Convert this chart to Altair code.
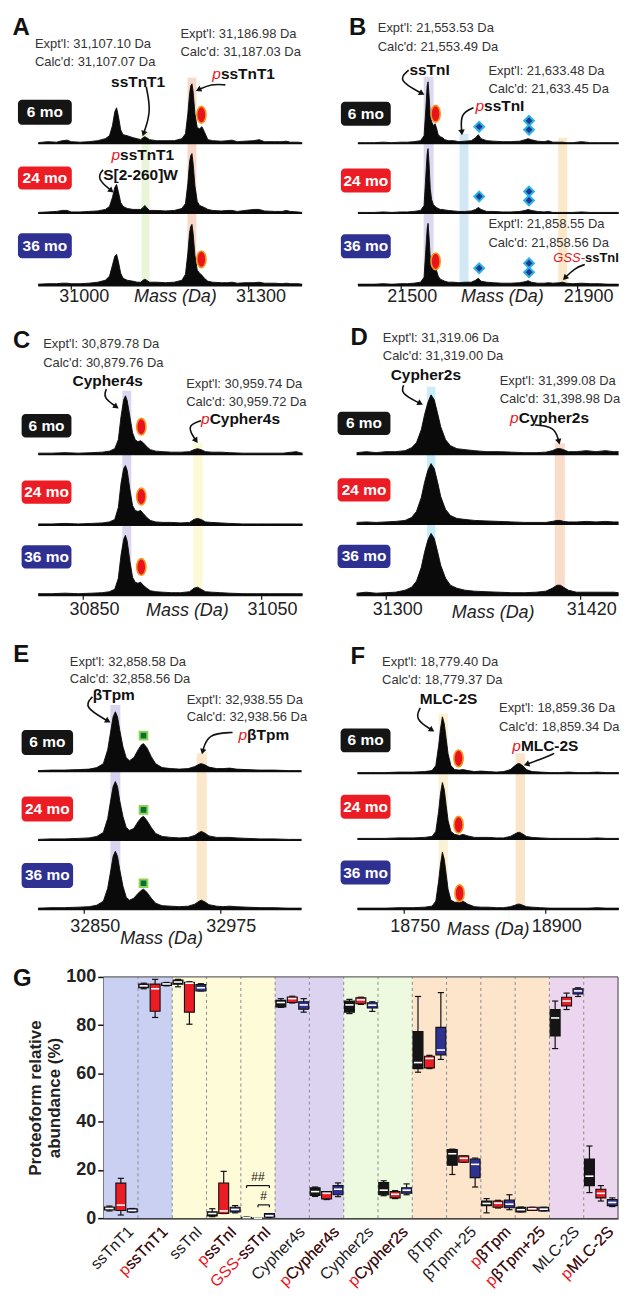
import altair as alt
import pandas as pd

FONT = "Liberation Sans"

AGES = ["6 mo", "24 mo", "36 mo"]
AGE_FILL = ["#151515", "#ec1c24", "#2e3192"]
RED = "#e8141c"

# ---------------- spectra data (mass in Da, intensity in a.u.) ----------------
A_MASS = [30944, 30960, 30975, 30985, 30993, 31000, 31015, 31030, 31045, 31058,
          31065, 31070, 31074, 31077, 31080, 31084, 31088, 31095, 31105, 31112,
          31118, 31122, 31125, 31128, 31133, 31145, 31160, 31175, 31188, 31194,
          31198, 31201, 31203, 31205, 31207, 31210, 31214, 31218, 31222, 31226,
          31232, 31240, 31255, 31265, 31273, 31282, 31295, 31310, 31319, 31328,
          31345, 31358, 31365, 31372, 31385, 31392]
A_6 = [1, 2, 1.5, 3, 3.5, 2, 1.5, 2, 3, 5,
       8, 18, 32, 36, 28, 14, 9, 8, 6, 5,
       4, 6, 7, 6, 4, 3, 3, 3, 5, 10,
       30, 50, 58, 60, 52, 30, 16, 15, 17, 12,
       4, 3, 2.5, 3, 3.5, 2, 2.5, 3, 4, 2,
       2, 2, 2.5, 1.5, 1.5, 1]
A_24 = [1, 1.5, 2, 3, 3, 1.5, 1.5, 2, 2.5, 4,
        7, 16, 26, 29, 22, 11, 7, 5, 4, 4,
        4, 6, 8, 6, 3, 3, 2.5, 3, 5, 10,
        30, 52, 58, 60, 50, 28, 12, 8, 7, 6,
        4, 3, 2.5, 3, 3, 2, 3, 4, 4, 2.5,
        2, 2, 3, 2, 1.5, 1]
A_36 = [1, 1.5, 1.5, 2, 2, 1.5, 1.5, 2, 3, 5,
        9, 20, 29, 31, 24, 12, 7, 5, 4, 3,
        3, 5, 6, 5, 3, 3, 2.5, 3, 5, 11,
        32, 53, 59, 61, 52, 30, 15, 12, 10, 7,
        4, 3, 2.5, 2.5, 3, 2, 2.5, 2.5, 3, 2,
        2, 1.5, 2, 1.5, 1.5, 1]

B_MASS = [21403, 21420, 21440, 21460, 21480, 21500, 21515, 21530, 21545, 21553,
          21557, 21560, 21562, 21564, 21567, 21570, 21574, 21578, 21581, 21585,
          21590, 21595, 21600, 21608, 21620, 21632, 21645, 21660, 21670, 21676,
          21682, 21695, 21710, 21730, 21750, 21770, 21782, 21789, 21796, 21810,
          21825, 21835, 21845, 21860, 21867, 21875, 21890, 21910, 21930, 21950,
          21970, 21994]
B_6 = [1, 1, 1, 1.5, 1, 1.5, 1.5, 2, 3, 8,
       35, 58, 62, 50, 28, 22, 18, 20, 16, 9,
       7, 6, 4, 3, 3, 2, 2.5, 3, 6, 9,
       5, 3, 2.5, 2, 2, 2.5, 4, 5, 4, 2.5,
       2, 3, 1.5, 1.5, 1.5, 1, 1, 2, 1, 1,
       1, 1]
B_24 = [1, 1, 1, 1.5, 1, 1.5, 1.5, 2, 3, 8,
        38, 60, 65, 52, 25, 14, 9, 7, 6, 5,
        4, 4, 3.5, 3, 2.5, 2, 2, 2.5, 4, 6,
        4, 2, 2, 1.5, 1.5, 2, 3, 4, 3, 2,
        1.5, 2, 1, 1, 1, 1, 1, 1.5, 1, 1,
        1, 1]
B_36 = [1, 1, 1, 1.5, 1, 1.5, 1.5, 2, 3, 8,
        36, 57, 62, 50, 27, 20, 17, 21, 15, 9,
        6, 5, 4, 3, 3, 2.5, 3, 3, 5, 7,
        4, 3, 2.5, 2, 2, 2.5, 3.5, 4.5, 3, 2,
        2, 2.5, 2, 2.5, 3, 2, 1.5, 2, 1.5, 1.5,
        1, 1]

C_MASS = [30800, 30815, 30830, 30845, 30860, 30872, 30880, 30886, 30890, 30893,
          30896, 30898, 30900, 30903, 30906, 30909, 30912, 30915, 30918, 30922,
          30926, 30932, 30940, 30950, 30960, 30970, 30975, 30979, 30983, 30988,
          30995, 31005, 31015, 31030, 31045, 31060, 31075, 31085, 31090, 31094,
          31097]
C_6 = [1.5, 1.5, 2, 1.5, 2, 2.5, 3.5, 6, 15, 38,
       55, 59, 54, 38, 22, 15, 13, 14, 12, 8,
       5, 3.5, 3, 2.5, 2.5, 3, 5, 6, 5, 3,
       2.5, 2.5, 2, 1.5, 1.5, 1.5, 1.5, 2.5, 3, 2,
       1.5]
C_24 = [1.5, 1.5, 2, 1.5, 2, 2.5, 3.5, 6, 18, 42,
        57, 60, 55, 36, 20, 15, 14, 15, 12, 8,
        5, 3.5, 3, 3, 2.5, 3, 6, 7, 6, 3.5,
        3, 2.5, 2, 1.5, 1.5, 1.5, 1.5, 1.5, 1.5, 1.5,
        1.5]
C_36 = [1.5, 1.5, 2, 1.5, 2, 2.5, 3.5, 6, 17, 40,
        56, 60, 54, 34, 18, 13, 12, 13, 10, 7,
        4.5, 3.5, 3, 2.5, 2.5, 3.5, 7, 8, 6, 3.5,
        3, 2.5, 2, 1.5, 1.5, 1.5, 1.5, 1.5, 1.5, 1.5,
        1.5]

D_MASS = [31282, 31288, 31294, 31300, 31306, 31312, 31316, 31319, 31322, 31324,
          31326, 31328, 31330, 31332, 31334, 31337, 31340, 31344, 31349, 31355,
          31362, 31370, 31378, 31386, 31393, 31399, 31403, 31406, 31408, 31410,
          31413, 31418, 31424, 31430, 31436, 31441, 31444]
D_6 = [2, 3, 2, 3, 3, 4, 7, 12, 25, 40,
       52, 60, 55, 42, 28, 15, 9, 6, 5, 4,
       3, 3, 2.5, 2, 2, 2.5, 4, 6, 6, 5,
       3, 3, 4, 3, 4, 3, 3]
D_24 = [2, 2.5, 2, 2.5, 3, 4, 7, 13, 27, 42,
        54, 61, 56, 43, 28, 15, 9, 6, 5, 4,
        3.5, 3, 2.5, 2, 2, 2, 3, 4, 4, 3,
        2.5, 2.5, 3, 2.5, 3, 2.5, 2.5]
D_36 = [2, 3, 2, 2.5, 3, 5, 8, 14, 28, 43,
        55, 62, 57, 44, 30, 17, 10, 7, 5, 4,
        3.5, 3, 2.5, 2.5, 3, 4, 7, 10, 10, 8,
        5, 3, 3, 3, 3, 3, 2.5]

E_MASS = [32808, 32820, 32832, 32845, 32855, 32862, 32868, 32872, 32875, 32877,
          32879, 32881, 32883, 32886, 32889, 32892, 32896, 32900, 32903, 32905,
          32908, 32912, 32916, 32922, 32930, 32938, 32946, 32952, 32956, 32958,
          32961, 32965, 32972, 32978, 32984, 32990, 33000, 33012, 33025, 33038,
          33050]
E_6 = [1, 1.5, 1.5, 2, 2.5, 4, 8, 22, 42, 55,
       60, 55, 42, 25, 14, 11, 14, 22, 27, 28,
       24, 15, 8, 4, 3, 2.5, 3, 5, 7.5, 8,
       7, 4.5, 3, 3, 3.5, 2.5, 2, 1.5, 1.5, 1,
       1]
E_24 = [1, 1.5, 1.5, 2, 2.5, 4, 8, 22, 42, 54,
        59, 54, 40, 24, 13, 10, 12, 19, 23, 24,
        20, 13, 7, 4, 3, 2.5, 3, 5, 8, 9,
        7.5, 4.5, 3, 3, 3, 2.5, 2, 1.5, 1.5, 1,
        1]
E_36 = [1, 1.5, 1.5, 2, 2.5, 4, 8, 21, 40, 53,
        58, 53, 40, 23, 12, 9, 11, 16, 19, 20,
        17, 11, 6, 3.5, 3, 2.5, 3, 5, 8, 9,
        7.5, 4.5, 3, 2.5, 3, 2.5, 2, 1.5, 1.5, 1,
        1]

F_MASS = [18701, 18715, 18730, 18745, 18760, 18772, 18780, 18784, 18787, 18789,
          18791, 18793, 18795, 18797, 18800, 18804, 18809, 18813, 18818, 18825,
          18832, 18840, 18848, 18856, 18863, 18868, 18871, 18873, 18876, 18880,
          18886, 18895, 18905, 18915, 18925, 18935, 18945, 18955, 18965, 18978]
F_6 = [1, 1, 1, 1.5, 1.5, 2, 3, 8, 28, 45,
       57, 50, 35, 20, 8, 4, 3.5, 4, 3, 2,
       2.5, 2, 1.5, 2, 4, 8, 10, 10, 8, 4,
       2, 1.5, 1, 1, 1.5, 1, 1, 1.5, 1, 1]
F_24 = [1, 1, 1, 1.5, 1.5, 2, 3, 8, 28, 46,
        57, 50, 34, 19, 8, 5, 4, 5, 3.5, 2,
        2, 2, 1.5, 1.5, 3, 5.5, 7, 7, 5.5, 3,
        2, 1.5, 1, 1, 1, 1, 1, 1.5, 1, 1]
F_36 = [1, 1, 1, 1.5, 1.5, 2, 3, 8, 28, 45,
        57, 50, 35, 20, 9, 7, 7, 8, 5, 2.5,
        2, 2, 1.5, 1.5, 2.5, 4, 5, 5, 4, 2.5,
        2, 1.5, 1, 1, 1, 1, 1, 1.5, 1, 1]

A_INFO = ["Expt'l: 31,107.10 Da", "Calc'd: 31,107.07 Da", "Expt'l: 31,186.98 Da", "Calc'd: 31,187.03 Da"]
B_INFO = ["Expt'l: 21,553.53 Da", "Calc'd: 21,553.49 Da", "Expt'l: 21,633.48 Da", "Calc'd: 21,633.45 Da",
          "Expt'l: 21,858.55 Da", "Calc'd: 21,858.56 Da"]
C_INFO = ["Expt'l: 30,879.78 Da", "Calc'd: 30,879.76 Da", "Expt'l: 30,959.74 Da", "Calc'd: 30,959.72 Da"]
D_INFO = ["Expt'l: 31,319.06 Da", "Calc'd: 31,319.00 Da", "Expt'l: 31,399.08 Da", "Calc'd: 31,398.98 Da"]
E_INFO = ["Expt'l: 32,858.58 Da", "Calc'd: 32,858.56 Da", "Expt'l: 32,938.55 Da", "Calc'd: 32,938.56 Da"]
F_INFO = ["Expt'l: 18,779.40 Da", "Calc'd: 18,779.37 Da", "Expt'l: 18,859.36 Da", "Calc'd: 18,859.34 Da"]

# ---------------- panel G data ----------------
G_CATS = ["ssTnT1", "pssTnT1", "ssTnI", "pssTnI", "GSS-ssTnI", "Cypher4s", "pCypher4s",
          "Cypher2s", "pCypher2s", "βTpm", "βTpm+25", "pβTpm", "pβTpm+25", "MLC-2S", "pMLC-2S"]
G_PREFIX = ["", "p", "", "p", "GSS-", "", "p", "", "p", "", "", "p", "p", "", "p"]
G_BG = ["#c9d0f2"] * 2 + ["#fefbd8"] * 3 + ["#dcd3f0"] * 2 + ["#eefadf"] * 2 + ["#fde5cc"] * 4 + ["#ecd6ef"] * 2

G6_WLO = [3, 95.1, 95.9, 0.6, 0.0, 87.4, 9, 84.8, 9.3, 60.5, 18.1, 2.2, 2.6, 70.3, 10.6]
G6_Q1 = [3.4, 95.5, 97, 0.9, 0.1, 87.6, 9.4, 85.4, 9.7, 62, 21.9, 5.2, 2.6, 75.5, 13.5]
G6_MED = [4, 96.3, 97.9, 1.9, 0.2, 89.4, 11, 88.4, 11.6, 64.5, 26.7, 6.1, 3.5, 83, 17.4]
G6_Q3 = [4.6, 97.0, 98.7, 2.6, 0.3, 90.3, 12.6, 90, 14.8, 77.4, 28.4, 7.1, 4.5, 86.5, 24.5]
G6_WHI = [5, 97.4, 99, 3.9, 0.5, 91, 12.9, 90.7, 15.5, 91.9, 28.6, 8.1, 4.6, 90, 29.9]

G24_WLO = [1.3, 83.2, 80.4, 1.9, 0, 89.2, 7.7, 88.6, 8.1, 62, 23.2, 4.2, 3.2, 86.5, 7.1]
G24_Q1 = [3.2, 85.8, 85.4, 1.9, 0, 89.4, 8.0, 88.9, 8.4, 62.3, 23.2, 4.5, 3.2, 88, 8.4]
G24_MED = [5.4, 95.1, 97.4, 3, 0, 91, 10.3, 90.5, 9.9, 66.2, 24.8, 6.2, 3.9, 90, 10.3]
G24_Q3 = [14.5, 97, 97.8, 14.6, 0.05, 91.7, 11, 91.4, 11, 67.1, 25.8, 7.1, 4.5, 91.6, 12]
G24_WHI = [16.5, 99, 98, 19.4, 0.1, 92, 11, 91.6, 11.4, 67.5, 25.8, 7.4, 4.5, 93.3, 13.5]

G36_WLO = [2.5, 96.3, 94.2, 2.2, 0.3, 85.4, 8.9, 85.7, 9.7, 65.8, 12.9, 3.5, 3.0, 91.9, 4.8]
G36_Q1 = [2.6, 96.5, 94.2, 2.6, 0.4, 86.6, 9.7, 87.1, 10.3, 67.7, 16.8, 4.3, 3.0, 92.9, 5.2]
G36_MED = [3.2, 97.1, 95.5, 3.6, 1.0, 88.4, 12, 88.3, 11.6, 69.7, 22.3, 5.8, 3.7, 94.2, 6.5]
G36_Q3 = [3.9, 97.5, 96.8, 4.5, 1.9, 89.7, 13.5, 89.3, 12.6, 79.1, 24.5, 7.5, 4.5, 95.1, 7.7]
G36_WHI = [4, 97.7, 97.2, 5.2, 1.9, 91, 14.6, 89.7, 14.2, 93.5, 24.9, 9.7, 4.5, 95.5, 8.4]

G_SIG = [("##", 4, 0, 2, 13.5), ("#", 4, 1, 2, 5.5)]  # label, category, age from, age to, level

# ---------------- panel layout / annotation settings ----------------
OVAL = "M0,-1A0.55,1,0,1,1,0,1A0.55,1,0,1,1,0,-1Z"

A_CFG = dict(
    mass=A_MASS, ints=[A_6, A_24, A_36], info=A_INFO,
    w=306, h=276, domain=[30892.7, 31410.5], ticks=[31000, 31300], span=[30944, 31392],
    ldx=12.6, lpad=-2, tx=167.5, ty=2, letter=("A", 30900.3, 251), base=[142, 72, 0],
    bands=[(31119.4, 31133, 154, "#e6f4d3"), (31197.3, 31212.5, 208, "#f9d4c3")],
    boxes=[(30909.6, 31001.0, 161, 186), (30909.6, 31001.0, 96, 119), (30909.6, 31001.0, 27, 52)],
    info_pos=[(30938.4, 242), (30938.4, 224), (31185.4, 252), (31185.4, 234)],
    bold=[("ssTnT1", 31113.5, 204), ("S[2-260]W", 31117.8, 111)],
    plab=[("ssTnT1", 31239.6, 212), ("ssTnT1", 31068.4, 131)], glab=[],
    ovals=[(31221, 171), (31221, 26)], diamonds=[], squares=[],
    arrows=[[(31127.4, 199), (31135.9, 174), (31122.8, 152), 199],
            [(31261.6, 201), (31237.9, 202), (31215.9, 196), 245],
            [(31054, 115.7), (31042.8, 107.3), (31068.2, 94.7), 130]],
)
B_CFG = dict(
    mass=B_MASS, ints=[B_6, B_24, B_36], info=B_INFO,
    w=283, h=276, domain=[21355.4, 21994.9], ticks=[21500, 21900], span=[21403, 21994],
    ldx=11, lpad=-2, tx=165.5, ty=2, letter=("B", 21382.5, 251), base=[142, 72, 0],
    bands=[(21552, 21574.6, 209, "#d9d4ef"), (21633.3, 21653.7, 152, "#cde6f4"), (21857, 21877.4, 148, "#fbe5c2")],
    boxes=[(21364.4, 21477.4, 160, 184), (21364.4, 21477.4, 93, 117), (21364.4, 21477.4, 27, 51)],
    info_pos=[(21448, 258), (21448, 239), (21698.9, 215), (21698.9, 197), (21698.9, 61), (21698.9, 42)],
    bold=[("ssTnI", 21565.5, 216)], plab=[("ssTnI", 21669.5, 180)], glab=[("ssTnI", 21846, 27)],
    ovals=[(21579.1, 172), (21579.1, 24)],
    diamonds=[(21677.9, 159), (21677.9, 89), (21677.9, 17), (21790.9, 165), (21790.9, 156),
              (21790.9, 94), (21790.9, 85), (21790.9, 22), (21790.9, 13)],
    squares=[],
    arrows=[[(21518.1, 215.7), (21491.6, 205.7), (21548.1, 192.3), 118],
            [(21665, 178), (21634.9, 172.3), (21638.5, 153.3), 175],
            [(21917.4, 20.7), (21894.8, 17.3), (21872.2, 7.3), 225]],
)
C_CFG = dict(
    mass=C_MASS, ints=[C_6, C_24, C_36], info=C_INFO,
    w=306, h=271, domain=[30766, 31108.8], ticks=[30850, 31050], span=[30800, 31097],
    ldx=11.3, lpad=1, tx=179.5, ty=6, letter=("C", 30771.6, 248), base=[141, 70, 0],
    bands=[(30894.5, 30904.6, 205, "#d8d0ee"), (30974.4, 30984.8, 153.3, "#fafad2")],
    boxes=[(30781.3, 30837.3, 158.3, 181.7), (30781.3, 30837.3, 91.7, 115), (30781.3, 30837.3, 26.7, 50)],
    info_pos=[(30805.5, 251.7), (30805.5, 233.3), (30966.2, 211.7), (30966.2, 193.3)],
    bold=[("Cypher4s", 30878, 215)], plab=[("Cypher4s", 30983, 176.7)], glab=[],
    ovals=[(30915.8, 169), (30915.8, 99), (30915.8, 28.3)], diamonds=[], squares=[],
    arrows=[[(30876.6, 206.7), (30872.7, 198.3), (30887.8, 189), 125],
            [(30983, 175), (30966.2, 170), (30977.4, 155), 146]],
)
D_CFG = dict(
    mass=D_MASS, ints=[D_6, D_24, D_36], info=D_INFO,
    w=283, h=271, domain=[31269.8, 31444.3], ticks=[31300, 31420], span=[31282, 31444],
    ldx=11.5, lpad=1, tx=156.3, ty=8, letter=("D", 31278.2, 251), base=[141, 71, 0],
    bands=[(31325.5, 31330.7, 209, "#c2ebf7"), (31404.6, 31410.8, 152.3, "#f8d8c4")],
    boxes=[(31270.2, 31302.9, 160.7, 184), (31270.2, 31302.9, 94, 117.3), (31270.2, 31302.9, 27.3, 50.7)],
    info_pos=[(31298.2, 258), (31298.2, 240), (31370.5, 214.7), (31370.5, 196.7)],
    bold=[("Cypher2s", 31324.8, 220.7)], plab=[("Cypher2s", 31376.9, 177.3)], glab=[],
    ovals=[], diamonds=[], squares=[],
    arrows=[[(31311.1, 210.7), (31309.1, 202.3), (31321.4, 192.3), 117],
            [(31392.3, 170.7), (31404.6, 169), (31407.1, 154), 165]],
)
E_CFG = dict(
    mass=E_MASS, ints=[E_6, E_24, E_36], info=E_INFO,
    w=306, h=269, domain=[32780.4, 33060.6], ticks=[32850, 32975], span=[32808, 33050],
    ldx=11, lpad=4, tx=153.5, ty=20, letter=("E", 32785.3, 248), base=[138, 69, 0],
    bands=[(32874.5, 32883.6, 204.7, "#d4cfee"), (32953.8, 32963, 156.3, "#fbe5c4")],
    boxes=[(32792.9, 32840.2, 154.7, 179.7), (32792.9, 32840.2, 88, 113), (32792.9, 32840.2, 21.3, 46.3)],
    info_pos=[(32837.2, 248), (32837.2, 230.7), (32944.6, 210.3), (32944.6, 193)],
    bold=[("βTpm", 32877.6, 214.7)], plab=[("βTpm", 32992.2, 174.7)], glab=[],
    ovals=[], diamonds=[], squares=[(32904.9, 174), (32904.9, 99.7), (32904.9, 26)],
    arrows=[[(32858, 213), (32849.4, 203), (32872.3, 188.7), 120],
            [(32986.7, 177.3), (32963.8, 176.3), (32959.2, 158), 195]],
)
F_CFG = dict(
    mass=F_MASS, ints=[F_6, F_24, F_36], info=F_INFO,
    w=283, h=269, domain=[18679.2, 18978.2], ticks=[18750, 18900], span=[18701, 18978],
    ldx=11, lpad=4, tx=151.3, ty=11, letter=("F", 18693.7, 246.3), base=[136, 70, 0],
    bands=[(18787, 18796.8, 196.3, "#fbf0cf"), (18868.6, 18878.5, 156.3, "#fbe2c2")],
    boxes=[(18683.1, 18736, 157.3, 181.3), (18683.1, 18736, 90.7, 114.7), (18683.1, 18736, 24.7, 48.7)],
    info_pos=[(18727.1, 248), (18727.1, 229.7), (18851, 201.3), (18851, 183)],
    bold=[("MLC-2S", 18797.5, 210.7)], plab=[("MLC-2S", 18865.1, 164)], glab=[],
    ovals=[(18808.1, 151.3), (18808.1, 84.7), (18809.2, 16)], diamonds=[], squares=[],
    arrows=[[(18767.6, 202), (18761.6, 190.7), (18779.9, 179.7), 122],
            [(18909.5, 156.3), (18897.9, 151.3), (18880.2, 145.3), 250]],
)


def spectrum(P):
    W, H = P["w"], P["h"]
    xs = alt.Scale(domain=P["domain"], nice=False, zero=False)
    ys = alt.Scale(domain=[0, H], nice=False, zero=False)
    ax = alt.Axis(values=P["ticks"], format="d", labelFontSize=18, labelFont=FONT, labelColor="#222",
                  labelOffset=P["ldx"], labelPadding=P["lpad"], labelFlush=False, labelOverlap=False,
                  tickSize=4, tickColor="#111", tickWidth=1.2, domain=False, grid=False,
                  title="Mass (Da)", titleFont=FONT, titleFontSize=18, titleFontStyle="italic",
                  titleFontWeight="normal", titleColor="#222", titleX=P["tx"], titleY=P["ty"],
                  titleAlign="center", titleBaseline="top")

    def X(f):
        return alt.X(f + ":Q", scale=xs, axis=ax)

    def Y(f):
        return alt.Y(f + ":Q", scale=ys, axis=None)

    layers = []
    bd = pd.DataFrame(P["bands"], columns=["m0", "m1", "top", "c"])
    bd["z"] = 0
    layers.append(alt.Chart(bd).mark_rect(opacity=0.9).encode(
        x=X("m0"), x2="m1", y=Y("z"), y2="top", color=alt.Color("c:N", scale=None)))

    rows, bl = [], []
    for k, age in enumerate(AGES):
        b = P["base"][k]
        for m, v in zip(P["mass"], P["ints"][k]):
            rows.append(dict(mass=m, age=age, y0=b, y1=b + v))
        bl.append(dict(m0=P["span"][0], m1=P["span"][1], b=b, sw=2.4 if b == 0 else 1.4))
    tr = pd.DataFrame(rows)
    layers.append(alt.Chart(pd.DataFrame(bl)).mark_rule(color="#111").encode(
        x=X("m0"), x2="m1", y=Y("b"), strokeWidth=alt.StrokeWidth("sw:Q", scale=None)))
    layers.append(alt.Chart(tr).mark_area(color="#0a0a0a", interpolate="linear").encode(
        x=X("mass"), y=Y("y1"), y2="y0", detail="age:N"))
    layers.append(alt.Chart(tr).mark_line(color="#0a0a0a", strokeWidth=0.9).encode(
        x=X("mass"), y=Y("y1"), detail="age:N"))

    if P["ovals"]:
        layers.append(alt.Chart(pd.DataFrame(P["ovals"], columns=["m", "h"])).mark_point(
            shape=OVAL, filled=True, fill=RED, stroke="#f7941d", strokeWidth=1.6, size=280, opacity=1).encode(
            x=X("m"), y=Y("h")))
    if P["diamonds"]:
        layers.append(alt.Chart(pd.DataFrame(P["diamonds"], columns=["m", "h"])).mark_point(
            shape="diamond", filled=True, fill="#1d3a8e", stroke="#2cb2ea", strokeWidth=2, size=95, opacity=1).encode(
            x=X("m"), y=Y("h")))
    if P["squares"]:
        layers.append(alt.Chart(pd.DataFrame(P["squares"], columns=["m", "h"])).mark_point(
            shape="square", filled=True, fill="#00723a", stroke="#94d152", strokeWidth=2, size=60, opacity=1).encode(
            x=X("m"), y=Y("h")))

    bx = pd.DataFrame([dict(age=a, x1=b[0], x2=b[1], y1=b[2], y2=b[3], fill=c,
                            xc=(b[0] + b[1]) / 2, yc=(b[2] + b[3]) / 2)
                       for a, b, c in zip(AGES, P["boxes"], AGE_FILL)])
    layers.append(alt.Chart(bx).mark_rect(cornerRadius=4).encode(
        x=X("x1"), x2="x2", y=Y("y1"), y2="y2", color=alt.Color("fill:N", scale=None)))
    layers.append(alt.Chart(bx).mark_text(color="white", fontWeight="bold", fontSize=15.5, font=FONT,
                                          baseline="middle").encode(x=X("xc"), y=Y("yc"), text="age:N"))

    inf = pd.DataFrame([dict(t=t, m=p[0], h=p[1]) for t, p in zip(P["info"], P["info_pos"])])
    layers.append(alt.Chart(inf).mark_text(align="left", baseline="middle", font=FONT, fontSize=13,
                                           color="#333").encode(x=X("m"), y=Y("h"), text="t:N"))
    bo = pd.DataFrame(P["bold"], columns=["t", "m", "h"])
    layers.append(alt.Chart(bo).mark_text(align="center", baseline="middle", font=FONT, fontSize=15.5,
                                          fontWeight="bold", color="#111").encode(x=X("m"), y=Y("h"), text="t:N"))
    for lab, pre, fs, dx in [(P["plab"], "p", 15.5, 8.6), (P["glab"], "GSS-", 13, 31.8)]:
        if not lab:
            continue
        d = pd.DataFrame(lab, columns=["t", "m", "h"])
        d["pre"] = pre
        layers.append(alt.Chart(d).mark_text(align="left", baseline="middle", font=FONT, fontSize=fs,
                                             fontStyle="italic", color=RED).encode(
            x=X("m"), y=Y("h"), text="pre:N"))
        layers.append(alt.Chart(d).mark_text(align="left", baseline="middle", font=FONT, fontSize=fs,
                                             fontWeight="bold", color="#111", dx=dx).encode(
            x=X("m"), y=Y("h"), text="t:N"))

    ar, hd = [], []
    for i, a in enumerate(P["arrows"]):
        for s, (m, h) in enumerate(a[:3]):
            ar.append(dict(id=i, seq=s, m=m, h=h))
        hd.append(dict(m=a[2][0], h=a[2][1], ang=a[3]))
    layers.append(alt.Chart(pd.DataFrame(ar)).mark_line(color="#111", strokeWidth=1.6, interpolate="basis").encode(
        x=X("m"), y=Y("h"), detail="id:N", order="seq:Q"))
    layers.append(alt.Chart(pd.DataFrame(hd)).mark_point(shape="triangle-up", filled=True, color="#111",
                                                         size=42, opacity=1).encode(
        x=X("m"), y=Y("h"), angle=alt.Angle("ang:Q", scale=None)))

    lt = pd.DataFrame([dict(t=P["letter"][0], m=P["letter"][1], h=P["letter"][2])])
    layers.append(alt.Chart(lt).mark_text(align="left", baseline="alphabetic", font=FONT, fontSize=24,
                                          fontWeight="bold", color="#111").encode(x=X("m"), y=Y("h"), text="t:N"))
    return alt.layer(*layers).properties(width=W, height=H)


def boxplot():
    # whole panel starts at the figure's left edge; the value area is the right part of it
    W, H, LEFT = 612, 242, 96
    n = len(G_CATS)
    gy = alt.Scale(domain=[0, 100], nice=False, zero=False)
    centers = [i + 0.5 for i in range(n)]
    # axis 1: only the prefixed labels, in red; axis 2 (on top): the labels without prefix, in black
    red_js = "[" + ",".join("'%s'" % (c if p else "") for c, p in zip(G_CATS, G_PREFIX)) + "][floor(datum.value)]"
    rest_js = "[" + ",".join("'%s'" % c[len(p):] for c, p in zip(G_CATS, G_PREFIX)) + "][floor(datum.value)]"
    lab_common = dict(values=centers, labelAngle=315, labelAlign="right", labelBaseline="top",
                      labelFontSize=16, labelFont=FONT, labelPadding=5, labelOffset=4,
                      labelOverlap=False, labelFlush=False, labelBound=False, labelLimit=0,
                      ticks=False, grid=False, title=None, orient="bottom")
    ax_red = alt.Axis(labelExpr=red_js, labelColor=RED, domain=True, domainColor="#111",
                      domainWidth=1.8, **lab_common)
    ax_rest = alt.Axis(labelExpr=rest_js, labelColor="#1a1a1a", domain=False, **lab_common)
    yax = alt.Axis(values=[0, 20, 40, 60, 80, 100], labelFontSize=18, labelFontWeight="bold", labelFont=FONT,
                   labelColor="#222", labelPadding=2, tickSize=6, tickColor="#111", tickWidth=1.5,
                   domainColor="#111", domainWidth=1.8, grid=False, offset=-LEFT,
                   title=["Proteoform relative", "abundance (%)"], titleFont=FONT, titleFontSize=17,
                   titleFontWeight="bold", titleColor="#222", titlePadding=2, titleLineHeight=19)

    def X(f, axis=None):
        return alt.X(f + ":Q", scale=alt.Scale(domain=[0, n], range=[LEFT, W], nice=False, zero=False),
                     axis=axis)

    def Y(f):
        return alt.Y(f + ":Q", scale=gy, axis=yax)

    bg = pd.DataFrame(dict(i0=list(range(n)), i1=[i + 1 for i in range(n)], c=G_BG, z0=0, z1=100))
    dv = pd.DataFrame(dict(i=list(range(1, n)), z0=0, z1=100))
    stats = [
        (G6_WLO, G6_Q1, G6_MED, G6_Q3, G6_WHI),
        (G24_WLO, G24_Q1, G24_MED, G24_Q3, G24_WHI),
        (G36_WLO, G36_Q1, G36_MED, G36_Q3, G36_WHI),
    ]
    rows = []
    for a, (wl, q1, md, q3, wh) in enumerate(stats):
        for i in range(n):
            pos = i + (a + 0.5) / 3
            rows.append(dict(pos=pos, x0=pos - 0.145, x1=pos + 0.145, c0=pos - 0.09, c1=pos + 0.09,
                             m0=pos - 0.12, m1=pos + 0.12, wlo=wl[i], q1=q1[i], med=md[i], q3=q3[i],
                             whi=wh[i], fill=AGE_FILL[a]))
    bx = pd.DataFrame(rows)
    frame = pd.DataFrame(dict(x0=[0, n], x1=[n, n], y0=[100, 0], y1=[100, 100]))

    layers = [
        alt.Chart(bg).mark_rect().encode(x=X("i0", ax_red), x2="i1", y=Y("z0"), y2="z1",
                                         color=alt.Color("c:N", scale=None)),
        alt.Chart(dv).mark_rule(color="#8a8a8a", strokeDash=[3, 3], strokeWidth=1).encode(
            x=X("i"), y=Y("z0"), y2="z1"),
        alt.Chart(frame).mark_rule(color="#666", strokeWidth=1.3).encode(x=X("x0", ax_rest), x2="x1",
                                                                         y=Y("y0"), y2="y1"),
        alt.Chart(bx).mark_rule(color="#111", strokeWidth=1.2).encode(x=X("pos"), y=Y("wlo"), y2="whi"),
        alt.Chart(bx).mark_rule(color="#111", strokeWidth=1.2).encode(x=X("c0"), x2="c1", y=Y("whi")),
        alt.Chart(bx).mark_rule(color="#111", strokeWidth=1.2).encode(x=X("c0"), x2="c1", y=Y("wlo")),
        alt.Chart(bx).mark_rect(stroke="#111", strokeWidth=1.1).encode(
            x=X("x0"), x2="x1", y=Y("q1"), y2="q3", color=alt.Color("fill:N", scale=None)),
        alt.Chart(bx).mark_rule(color="white", strokeWidth=1.6).encode(x=X("m0"), x2="m1", y=Y("med")),
    ]

    hs, vs, ts = [], [], []
    for lab, ci, a0, a1, lev in G_SIG:
        p0 = ci + (a0 + 0.5) / 3
        p1 = ci + (a1 + 0.5) / 3
        hs.append(dict(p0=p0, p1=p1, y=lev))
        vs.append(dict(p=p0, y0=lev - 1.0, y1=lev))
        vs.append(dict(p=p1, y0=lev - 1.0, y1=lev))
        ts.append(dict(p=(p0 + p1) / 2, y=lev + 0.6, t=lab))
    layers += [
        alt.Chart(pd.DataFrame(hs)).mark_rule(color="#111", strokeWidth=1.2).encode(x=X("p0"), x2="p1", y=Y("y")),
        alt.Chart(pd.DataFrame(vs)).mark_rule(color="#111", strokeWidth=1.2).encode(x=X("p"), y=Y("y0"), y2="y1"),
        alt.Chart(pd.DataFrame(ts)).mark_text(baseline="bottom", fontSize=12, font=FONT, color="#111").encode(
            x=X("p"), y=Y("y"), text="t:N"),
    ]

    one = pd.DataFrame(dict(a=[0]))
    layers.append(alt.Chart(one).mark_text(text="G", align="left", baseline="top", fontSize=24,
                                           fontWeight="bold", font=FONT, color="#111").encode(
        x=alt.value(5), y=alt.value(-10)))

    return alt.layer(*layers).resolve_scale(x="independent").properties(width=W, height=H)


row1 = alt.hconcat(spectrum(A_CFG), spectrum(B_CFG), spacing=24)
row2 = alt.hconcat(spectrum(C_CFG), spectrum(D_CFG), spacing=24)
row3 = alt.hconcat(spectrum(E_CFG), spectrum(F_CFG), spacing=24)

chart = alt.vconcat(row1, row2, row3, boxplot(), spacing=20).properties(padding=0).configure(
    font=FONT).configure_view(strokeWidth=0)

chart.save("out.html", embed_options={"renderer": "svg", "actions": False})
